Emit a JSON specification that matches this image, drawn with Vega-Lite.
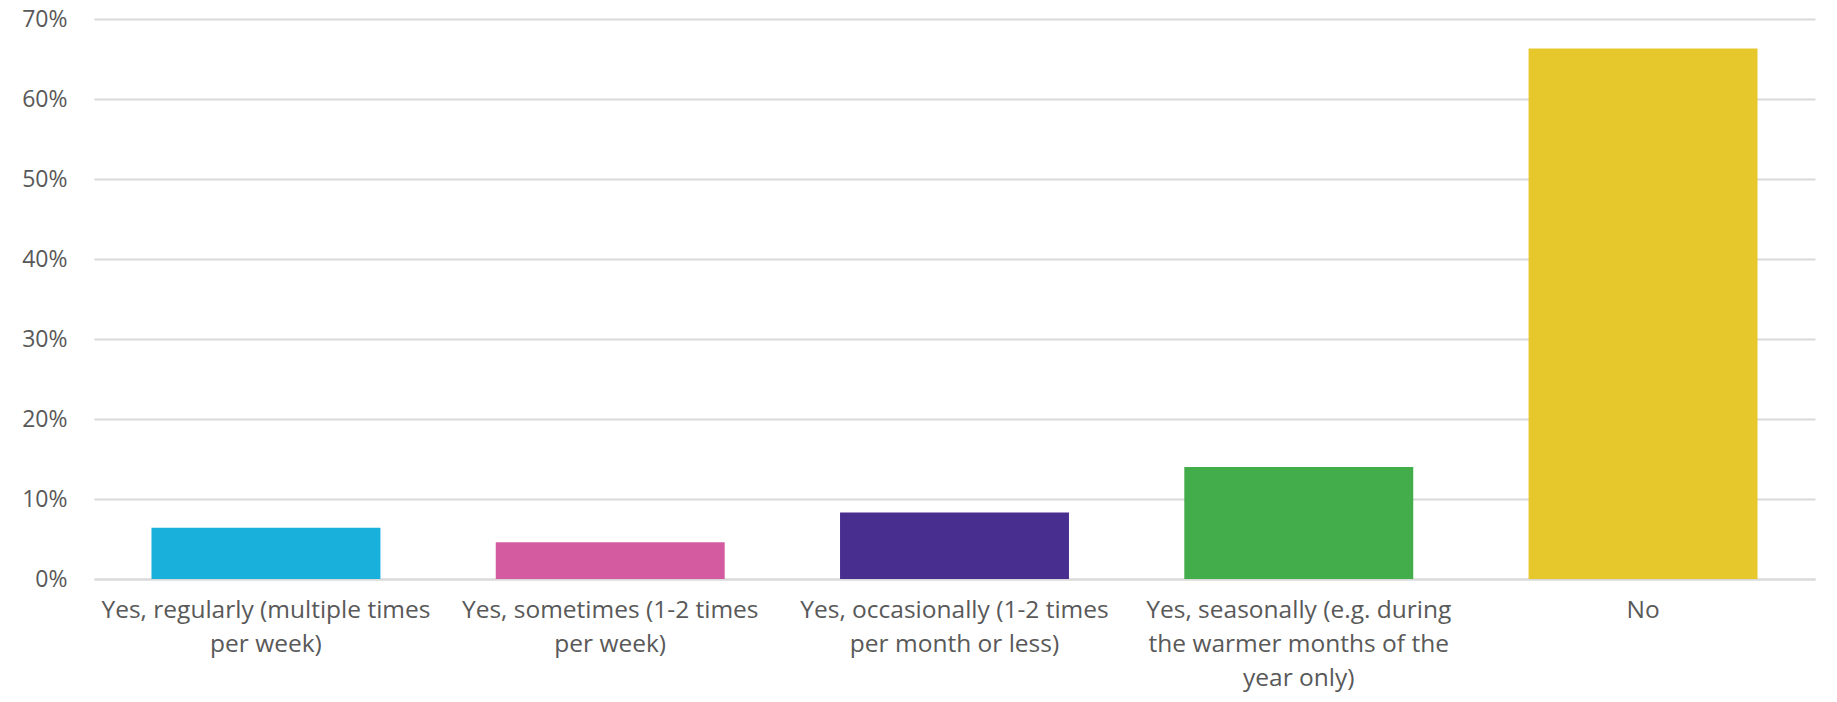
{
  "$schema": "https://vega.github.io/schema/vega-lite/v6.json",
  "width": 1721,
  "height": 560,
  "autosize": "none",
  "padding": {"left": 94, "top": 19, "right": 22, "bottom": 123},
  "background": "white",
  "config": {"view": {"stroke": null}, "font": "Open Sans"},
  "data": {
    "values": [
      {"category": "Yes, regularly (multiple times\nper week)", "share": 0.064, "order": 1},
      {"category": "Yes, sometimes (1-2 times\nper week)", "share": 0.046, "order": 2},
      {"category": "Yes, occasionally (1-2 times\nper month or less)", "share": 0.083, "order": 3},
      {"category": "Yes, seasonally (e.g. during\nthe warmer months of the\nyear only)", "share": 0.14, "order": 4},
      {"category": "No", "share": 0.663, "order": 5}
    ]
  },
  "mark": {"type": "bar"},
  "encoding": {
    "x": {
      "field": "category",
      "type": "nominal",
      "sort": {"field": "order"},
      "scale": {"paddingInner": 0.335, "paddingOuter": 0.167},
      "axis": {
        "title": null,
        "labelAngle": 0,
        "labelExpr": "split(datum.label, '\\n')",
        "labelFont": "Open Sans",
        "labelFontSize": 24.5,
        "labelColor": "#595959",
        "labelLineHeight": 34,
        "labelPadding": 19,
        "labelLimit": 0,
        "ticks": false,
        "domain": true,
        "domainColor": "#D9D9D9",
        "domainWidth": 2
      }
    },
    "y": {
      "field": "share",
      "type": "quantitative",
      "scale": {"domain": [0, 0.7]},
      "axis": {
        "title": null,
        "values": [0, 0.1, 0.2, 0.3, 0.4, 0.5, 0.6, 0.7],
        "format": ".0%",
        "labelFont": "Open Sans",
        "labelFontSize": 23,
        "labelColor": "#595959",
        "labelPadding": 27,
        "ticks": false,
        "domain": false,
        "grid": true,
        "gridColor": "#D9D9D9",
        "gridWidth": 2
      }
    },
    "color": {
      "field": "category",
      "type": "nominal",
      "sort": {"field": "order"},
      "scale": {"range": ["#19B1DC", "#D45BA0", "#482E8F", "#43AD4B", "#E6C82D"]},
      "legend": null
    }
  }
}
